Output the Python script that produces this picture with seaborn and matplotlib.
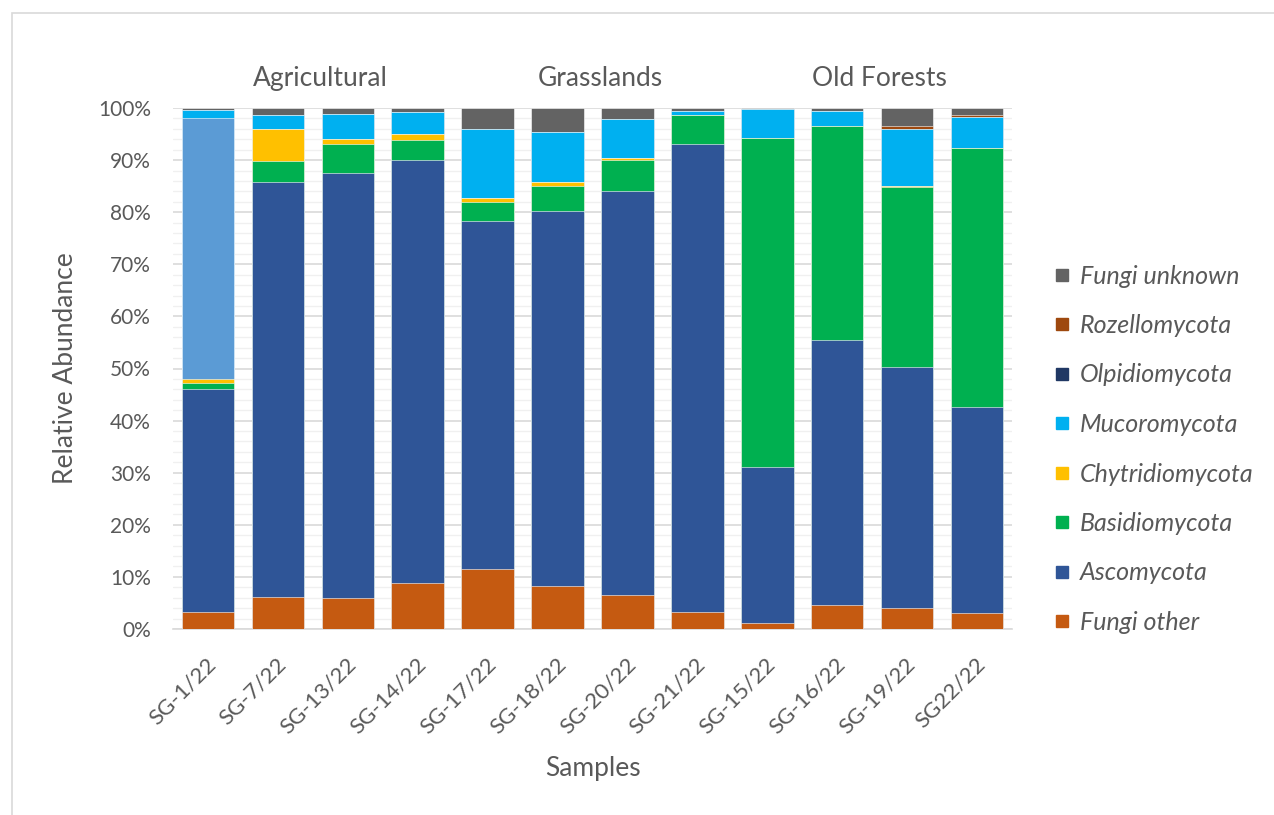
import numpy as np
import pandas as pd
import matplotlib
matplotlib.use("Agg")
import matplotlib.pyplot as plt
import matplotlib.transforms as mtransforms
from matplotlib.lines import Line2D
from matplotlib.patches import Rectangle
from matplotlib.ticker import MultipleLocator, FuncFormatter
import seaborn as sns

# Samples grouped by land use
samples = ["SG-1/22", "SG-7/22", "SG-13/22", "SG-14/22",
           "SG-17/22", "SG-18/22", "SG-20/22", "SG-21/22",
           "SG-15/22", "SG-16/22", "SG-19/22", "SG22/22"]
groups = ["Agricultural", "Grasslands", "Old Forests"]
group_sizes = [4, 4, 4]

# Relative abundance (%) per phylum, stacked bottom to top
fungi_other     = [3.3, 6.2, 6.0, 8.9, 11.6, 8.2, 6.6, 3.3, 1.2, 4.6, 4.0, 3.1]
ascomycota      = [42.8, 79.6, 81.5, 81.1, 66.7, 72.0, 77.4, 89.8, 29.9, 50.9, 46.2, 39.6]
basidiomycota   = [1.2, 4.1, 5.5, 3.9, 3.6, 4.8, 6.1, 5.6, 63.2, 41.1, 34.7, 49.6]
chytridiomycota = [0.6, 6.0, 1.1, 1.1, 0.9, 0.8, 0.3, 0.0, 0.0, 0.0, 0.2, 0.0]
unplaced        = [50.1, 0, 0, 0, 0, 0, 0, 0, 0, 0, 0, 0]
mucoromycota    = [1.6, 2.8, 4.7, 4.2, 13.1, 9.6, 7.5, 0.7, 5.6, 2.8, 10.8, 5.9]
olpidiomycota   = [0.0, 0.0, 0.0, 0.0, 0.0, 0.0, 0.0, 0.0, 0.0, 0.0, 0.0, 0.0]
rozellomycota   = [0.0, 0.0, 0.0, 0.0, 0.0, 0.0, 0.0, 0.0, 0.0, 0.0, 0.6, 0.5]
fungi_unknown   = [0.4, 1.3, 1.2, 0.8, 4.1, 4.6, 2.1, 0.6, 0.1, 0.6, 3.5, 1.3]

layers = [
    ("Fungi other", fungi_other, "#C55A11", True),
    ("Ascomycota", ascomycota, "#2F5597", True),
    ("Basidiomycota", basidiomycota, "#00B050", True),
    ("Chytridiomycota", chytridiomycota, "#FFC000", True),
    ("unplaced", unplaced, "#5B9BD5", False),
    ("Mucoromycota", mucoromycota, "#00B0F0", True),
    ("Olpidiomycota", olpidiomycota, "#203864", True),
    ("Rozellomycota", rozellomycota, "#9E480E", True),
    ("Fungi unknown", fungi_unknown, "#636363", True),
]

text_color = "#595959"
sns.set_theme(style="white")
plt.rcParams["font.family"] = ["Lato", "DejaVu Sans"]
plt.rcParams["text.color"] = text_color
plt.rcParams["axes.labelcolor"] = text_color
plt.rcParams["xtick.color"] = text_color
plt.rcParams["ytick.color"] = text_color

df = pd.DataFrame({"sample": samples})
for name, vals, _, _ in layers:
    df[name] = vals

fig = plt.figure(figsize=(12.74, 8.15), dpi=100)
ax = fig.add_axes([173 / 1274, 1 - 629 / 815, (1012 - 173) / 1274, (629 - 108) / 815])

# Cumulative stacks drawn from the top layer down so each covers the next
cum = df[[l[0] for l in layers]].cumsum(axis=1)
for name, _, color, _ in reversed(layers):
    sns.barplot(x=df["sample"], y=cum[name], order=samples, color=color,
                width=0.75, edgecolor="white", linewidth=0.4,
                saturation=1, ax=ax, zorder=3)

ax.set_ylim(0, 100)
ax.set_xlim(-0.5, len(samples) - 0.5)
ax.yaxis.set_major_locator(MultipleLocator(10))
ax.yaxis.set_minor_locator(MultipleLocator(2))
ax.yaxis.set_major_formatter(FuncFormatter(lambda v, _: f"{v:.0f}%"))
ax.grid(axis="y", which="major", color="#D9D9D9", linewidth=1.2, zorder=0)
ax.grid(axis="y", which="minor", color="#F0F0F0", linewidth=1.0, zorder=0)
ax.set_axisbelow(True)
for side in ["top", "right", "left"]:
    ax.spines[side].set_visible(False)
ax.spines["bottom"].set_color("#D9D9D9")
ax.spines["bottom"].set_linewidth(1.2)

ax.tick_params(axis="y", which="both", length=0, pad=16, labelsize=15)
ax.tick_params(axis="x", length=0, pad=18, labelsize=16)
ax.set_xticks(range(len(samples)))
ax.set_xticklabels(samples, rotation=45, ha="right", va="top", rotation_mode="anchor")
shift = mtransforms.ScaledTranslation(-2 / 100, 0, fig.dpi_scale_trans)
for lbl in ax.get_xticklabels():
    lbl.set_transform(lbl.get_transform() + shift)

ax.set_ylabel("Relative Abundance", fontsize=19, labelpad=14)
ax.set_xlabel("Samples", fontsize=19, labelpad=13)

# Land-use group headings above the bars
start = 0
for g, n in zip(groups, group_sizes):
    center = start + (n - 1) / 2 + 0.11
    ax.text(center, 103.2, g, ha="center", va="bottom", fontsize=19,
            color=text_color, transform=ax.transData)
    start += n

# Legend, top entry first
handles = [Line2D([0], [0], marker="s", linestyle="", markersize=9,
                  markerfacecolor=c, markeredgecolor=c)
           for name, _, c, show in reversed(layers) if show]
labels = [name for name, _, c, show in reversed(layers) if show]
leg = fig.legend(handles, labels, loc="upper left",
                 bbox_to_anchor=(1032 / 1274, 1 - 242 / 815),
                 frameon=False, handlelength=0.6, handletextpad=0.4,
                 labelspacing=1.06, prop={"size": 18, "style": "italic"})
for t in leg.get_texts():
    t.set_color(text_color)

# Chart area border
fig.patches.append(Rectangle((12 / 1274, -0.1), 1.2, 1.1 - 13 / 815,
                             transform=fig.transFigure, fill=False,
                             edgecolor="#D9D9D9", linewidth=1.2))

fig.savefig("out.png", dpi=100)
